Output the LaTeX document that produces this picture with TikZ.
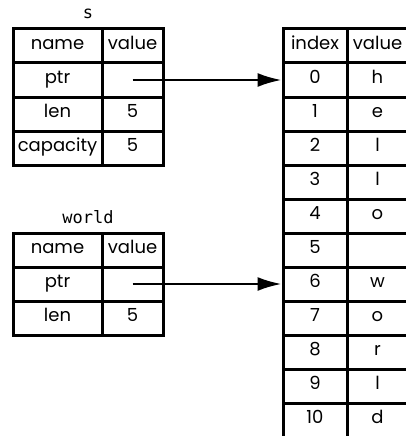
\documentclass[tikz,border=0pt]{standalone}
\usepackage{fontspec}
\setmainfont{Poppins}
\setmonofont{DejaVu Sans Mono}
\usepackage{tikz}
\usetikzlibrary{arrows.meta}
\tikzset{
    cell/.style = {rectangle, draw=black, line width=3pt, inner sep=0pt, align=center,
        minimum height=34pt, text height=1.55ex, text depth=.45ex, font=\fontsize{18}{21}\selectfont},
    namecell/.style = {cell, minimum width=89pt},
    valcell/.style = {cell, minimum width=61pt},
    idxcell/.style = {cell, minimum width=64pt},
    varlabel/.style = {font=\ttfamily\fontsize{17}{20}\selectfont},
}

\begin{document}
\begin{tikzpicture}[
	x=1pt, y=-1pt
]
\tikzset{
    ptr/.style = {-{Latex[length=24pt,width=14pt]}, line width=2.4pt}
}
\useasboundingbox (0,0) rectangle (406,436);
% string s
\node[varlabel] at (88,14) (slabel) {s};
\node[namecell] at (57.5,46) (sname) {name};
\node[valcell] at (132.5,46) (svalue) {value};
\node[namecell] at (57.5,80) (sptrn) {ptr};
\node[valcell] at (132.5,80) (sptr) {};
\node[namecell] at (57.5,114) (slenn) {len};
\node[valcell] at (132.5,114) (slen) {5};
\node[namecell] at (57.5,148) (scapn) {capacity};
\node[valcell] at (132.5,148) (scap) {5};
% slice world
\node[varlabel] at (88,217) (wlabel) {world};
\node[namecell] at (57.5,250) (wname) {name};
\node[valcell] at (132.5,250) (wvalue) {value};
\node[namecell] at (57.5,284) (wptrn) {ptr};
\node[valcell] at (132.5,284) (wptr) {};
\node[namecell] at (57.5,318) (wlenn) {len};
\node[valcell] at (132.5,318) (wlen) {5};
% heap bytes
\node[idxcell] at (315,46) (hindex) {index};
\node[valcell] at (377.5,46) (hvalue) {value};
\node[idxcell] at (315,80) (i0) {0};
\node[valcell] at (377.5,80) (v0) {h};
\node[idxcell] at (315,114) (i1) {1};
\node[valcell] at (377.5,114) (v1) {e};
\node[idxcell] at (315,148) (i2) {2};
\node[valcell] at (377.5,148) (v2) {l};
\node[idxcell] at (315,182) (i3) {3};
\node[valcell] at (377.5,182) (v3) {l};
\node[idxcell] at (315,216) (i4) {4};
\node[valcell] at (377.5,216) (v4) {o};
\node[idxcell] at (315,250) (i5) {5};
\node[valcell] at (377.5,250) (v5) {};
\node[idxcell] at (315,284) (i6) {6};
\node[valcell] at (377.5,284) (v6) {w};
\node[idxcell] at (315,318) (i7) {7};
\node[valcell] at (377.5,318) (v7) {o};
\node[idxcell] at (315,352) (i8) {8};
\node[valcell] at (377.5,352) (v8) {r};
\node[idxcell] at (315,386) (i9) {9};
\node[valcell] at (377.5,386) (v9) {l};
\node[idxcell] at (315,420) (i10) {10};
\node[valcell] at (377.5,420) (v10) {d};
%
\draw[ptr] (sptr.center) -- (i0.west);
\draw[ptr] (wptr.center) -- (i6.west);
\end{tikzpicture}
\end{document}
